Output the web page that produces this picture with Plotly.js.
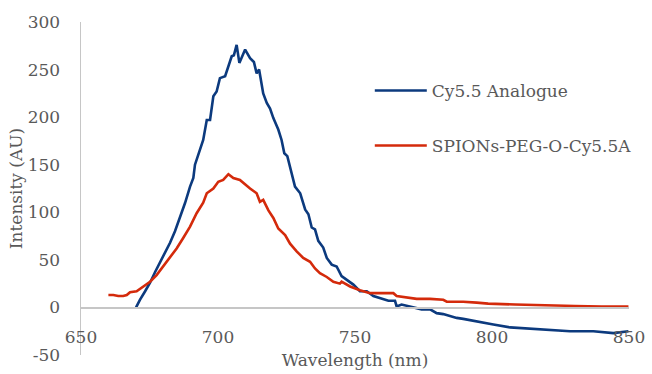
<!DOCTYPE html>
<html>
<head>
<meta charset="utf-8">
<script src="https://cdn.plot.ly/plotly-3.0.1.min.js"></script>
<style>html,body{margin:0;padding:0;background:#fff;}#chart{width:652px;height:374px;}</style>
</head>
<body>
<div id="chart"></div>
<script>
const seriesNames = ["Cy5.5 Analogue", "SPIONs-PEG-O-Cy5.5A"];

const cyWavelength = [670.1,671.5,673.4,675.2,677.0,678.8,680.7,682.5,684.3,686.1,688.0,689.8,691.0,691.6,694.6,695.9,697.1,698.3,699.5,700.7,702.6,705.0,705.8,706.8,707.8,709.9,711.7,713.1,714.1,715.0,716.5,717.8,719.0,720.2,722.0,723.2,724.2,725.3,726.3,727.5,728.1,730.0,731.8,733.0,734.2,735.4,736.6,738.4,739.7,741.5,743.3,745.1,747.0,749.4,751.8,754.3,756.7,759.1,762.2,764.6,765.2,767.0,771.3,774.3,777.4,779.8,782.2,784.7,787.1,789.5,794.4,800.5,806.6,812.6,820.0,828.5,837.0,844.3,849.8];
const cyIntensity = [0,8,17,26,37,47,58,68,80,94,110,127,136,150,176,197,197,222,227,241,243,264,265,276,257,271,262,258,246,250,225,215,209,199,187,176,162,159,148,136,127,120,103,98,84,82,70,63,52,45,43,33,29,24,17,17,12,10,7,7,1,3,0,-2,-2,-6,-7,-9,-11,-12,-15,-18,-21,-22,-24,-25,-25,-27,-25];

const spionWavelength = [660.0,661.8,663.6,665.4,666.7,667.9,670.3,672.7,675.2,677.6,680.0,682.5,684.9,687.3,689.8,692.2,694.6,695.9,698.3,700.1,701.9,703.8,705.6,708.0,709.9,711.7,714.1,715.3,716.5,718.4,720.2,722.0,724.5,726.3,728.7,731.1,733.6,735.4,737.2,739.7,742.1,744.5,745.1,748.2,751.8,755.5,759.1,764.0,765.2,770.1,772.5,777.4,782.2,783.5,789.5,794.4,798.6,808.4,818.1,830.3,840.0,849.8];
const spionIntensity = [13,13,12,12,13,16,17,22,27,34,43,52,62,73,85,99,110,120,125,132,134,140,136,134,129,125,120,111,113,102,94,83,76,67,59,52,48,41,36,32,27,25,27,22,18,15,15,15,12,10,9,9,8,6,6,5,4,3,2,1.5,1,1];

const xTicks = [650,700,750,800,850];
const yTicks = [-50,0,50,100,150,200,250,300];

const fontFamily = '"DejaVu Serif", "Liberation Serif", serif';
const gray = '#595959';

const traces = [
  {x: cyWavelength, y: cyIntensity, name: seriesNames[0], type: 'scatter', mode: 'lines',
   line: {color: '#0c3a7e', width: 2.6}, legend: 'legend'},
  {x: spionWavelength, y: spionIntensity, name: seriesNames[1], type: 'scatter', mode: 'lines',
   line: {color: '#d42a0b', width: 2.6}, legend: 'legend2'}
];

const legendCommon = {font: {family: fontFamily, size: 17, color: gray}, bgcolor: 'rgba(0,0,0,0)',
  xanchor: 'left', yanchor: 'middle', itemwidth: 52};

const layout = {
  width: 652, height: 374,
  margin: {l: 81, r: 23, t: 22, b: 19},
  paper_bgcolor: '#fff', plot_bgcolor: '#fff',
  showlegend: true,
  legend: Object.assign({x: 0.527, y: 0.793}, legendCommon),
  legend2: Object.assign({x: 0.527, y: 0.628}, legendCommon),
  xaxis: {
    range: [650, 850], tickvals: xTicks, ticktext: xTicks.map(String),
    anchor: 'free', position: 50/350,
    showgrid: false, zeroline: false, showline: true, linecolor: '#c6c6c6', linewidth: 1.5,
    ticks: '', ticklabelstandoff: 14,
    tickfont: {family: fontFamily, size: 17, color: gray},
    title: {text: 'Wavelength (nm)', font: {family: fontFamily, size: 17, color: gray}, standoff: 8}
  },
  yaxis: {
    range: [-50, 300], tickvals: yTicks, ticktext: yTicks.map(String),
    showgrid: false, zeroline: false, showline: true, linecolor: '#c6c6c6', linewidth: 1.5,
    ticks: '', ticklabelstandoff: 16,
    tickfont: {family: fontFamily, size: 17, color: gray},
    title: {text: 'Intensity (AU)', font: {family: fontFamily, size: 17, color: gray}, standoff: 0}
  }
};

Plotly.newPlot('chart', traces, layout, {displayModeBar: false, staticPlot: true});
</script>
</body>
</html>
